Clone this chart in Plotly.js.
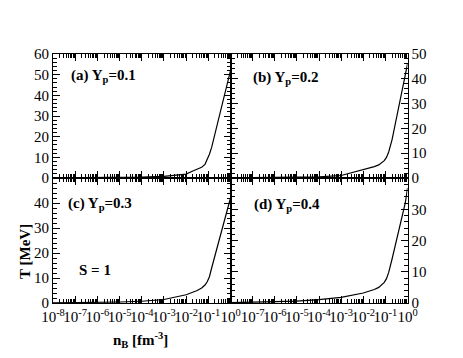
<!DOCTYPE html>
<html>
<head>
<meta charset="utf-8">
<script src="https://cdn.plot.ly/plotly-3.0.1.min.js"></script>
<style>html,body{margin:0;padding:0;background:#fff}#chart{width:463px;height:358px}</style>
</head>
<body>
<div id="chart"></div>
<script>
// log10(n_B) sample points
const logNB = [-8, -7, -6, -5, -4, -3, -2, -1.7, -1.5, -1.3, -1.15, -1.05, -0.95, -0.85, -0.7, -0.55, -0.4, -0.25, -0.1, 0];
// T [MeV] for each panel
const T_a = [0.02, 0.04, 0.1, 0.2, 0.4, 0.8, 1.9, 3.4, 4.4, 5.2, 6.6, 8.8, 11.5, 14.8, 21.3, 27.9, 34.5, 41.0, 47.6, 52.0];
const T_b = [0.03, 0.06, 0.12, 0.25, 0.45, 1.0, 3.2, 4.0, 4.6, 5.3, 6.2, 7.0, 8.3, 10.5, 15.4, 21.6, 28.2, 34.8, 41.6, 46.0];
const T_c = [0.05, 0.1, 0.2, 0.4, 0.7, 1.4, 3.3, 4.2, 5.0, 6.0, 7.2, 8.5, 10.5, 14.0, 19.0, 23.8, 28.8, 33.6, 38.5, 42.0];
const T_d = [0.1, 0.2, 0.35, 0.6, 1.1, 1.8, 3.2, 3.8, 4.3, 5.0, 5.8, 6.6, 7.8, 9.8, 14.0, 18.3, 22.5, 26.7, 32.0, 36.8];
const panelLabels = ['(a) Y<sub>p</sub>=0.1', '(b) Y<sub>p</sub>=0.2', '(c) Y<sub>p</sub>=0.3', '(d) Y<sub>p</sub>=0.4'];
const xTickExp = [-8, -7, -6, -5, -4, -3, -2, -1, 0];

const nB = logNB.map(v => Math.pow(10, v));
const W = 463, H = 358;
const fx = p => p / W, fy = p => 1 - p / H;

const xMajor = xTickExp.map(e => Math.pow(10, e));
const xText = xTickExp.map(e => '10<sup>' + e + '</sup>');
const xMinor = [];
for (let e = -8; e < 0; e++) for (let m = 2; m <= 9; m++) xMinor.push(m * Math.pow(10, e));

const font = {family: 'Liberation Serif, Times New Roman, serif', size: 15, color: '#000'};
const lineStyle = {color: '#000', width: 1.2};
const traces = [
  {x: nB, y: T_a, xaxis: 'x', yaxis: 'y'},
  {x: nB, y: T_b, xaxis: 'x2', yaxis: 'y2'},
  {x: nB, y: T_c, xaxis: 'x3', yaxis: 'y3'},
  {x: nB, y: T_d, xaxis: 'x4', yaxis: 'y4'}
].map(t => Object.assign(t, {type: 'scatter', mode: 'lines', line: lineStyle, showlegend: false, hoverinfo: 'skip'}));

const xL = [fx(53), fx(230.5)], xR = [fx(230.5), fx(407.5)];
const yT = [fy(178), fy(54)], yB = [fy(303), fy(178)];

function xax(domain, anchor, labels, firstBlank) {
  return {
    type: 'log', range: [-8, 0], domain: domain, anchor: anchor,
    showline: true, linecolor: '#000', linewidth: 1, mirror: 'ticks',
    ticks: 'inside', ticklen: 7, tickwidth: 1, tickcolor: '#000',
    tickmode: 'array', tickvals: xMajor, tickangle: 0, ticklabelstandoff: 0,
    ticktext: xText.map((t, i) => (firstBlank && i === 0) ? '' : t),
    showticklabels: labels, tickfont: font,
    minor: {tickmode: 'array', tickvals: xMinor, ticks: 'inside', ticklen: 4, tickcolor: '#000', tickwidth: 1, showgrid: false},
    showgrid: false, zeroline: false, fixedrange: true
  };
}
function yax(domain, anchor, max, side, hideTop) {
  const vals = [];
  for (let v = 0; v <= max; v += 10) vals.push(v);
  return {
    range: [0, max], domain: domain, anchor: anchor, side: side,
    showline: true, linecolor: '#000', linewidth: 1, mirror: 'ticks',
    ticks: 'inside', ticklen: 7, tickwidth: 1, tickcolor: '#000',
    tickmode: 'array', tickvals: vals,
    ticktext: vals.map(v => (hideTop && v === max) ? '' : String(v)),
    tickfont: font,
    minor: {dtick: 2, ticks: 'inside', ticklen: 4, tickcolor: '#000', tickwidth: 1, showgrid: false},
    showgrid: false, zeroline: false, fixedrange: true
  };
}

const bold = {family: 'Liberation Serif, Times New Roman, serif', size: 15, color: '#000', weight: 'bold'};
function ann(text, x, y, extra) {
  return Object.assign({text: '<b>' + text + '</b>', xref: 'paper', yref: 'paper', x: fx(x), y: fy(y),
    xanchor: 'left', yanchor: 'middle', showarrow: false, font: bold}, extra || {});
}

const layout = {
  width: W, height: H, margin: {l: 0, r: 0, t: 0, b: 0},
  paper_bgcolor: '#fff', plot_bgcolor: '#fff', font: font,
  xaxis: xax(xL, 'y', false, false),
  xaxis2: xax(xR, 'y2', false, false),
  xaxis3: xax(xL, 'y3', true, false),
  xaxis4: xax(xR, 'y4', true, true),
  yaxis: yax(yT, 'x', 60, 'left', false),
  yaxis2: yax(yT, 'x2', 50, 'right', false),
  yaxis3: yax(yB, 'x3', 50, 'left', true),
  yaxis4: yax(yB, 'x4', 40, 'right', true),
  annotations: [
    ann(panelLabels[0], 69, 76),
    ann(panelLabels[1], 251, 78),
    ann(panelLabels[2], 66, 204),
    ann(panelLabels[3], 252, 205),
    ann('S = 1', 77, 270),
    ann('T [MeV]', 25, 252, {xanchor: 'center', textangle: -90}),
    ann('n<sub>B</sub> [fm<sup>-3</sup>]', 140, 340, {xanchor: 'center'})
  ]
};

Plotly.newPlot('chart', traces, layout, {staticPlot: true, displayModeBar: false});
</script>
</body>
</html>
